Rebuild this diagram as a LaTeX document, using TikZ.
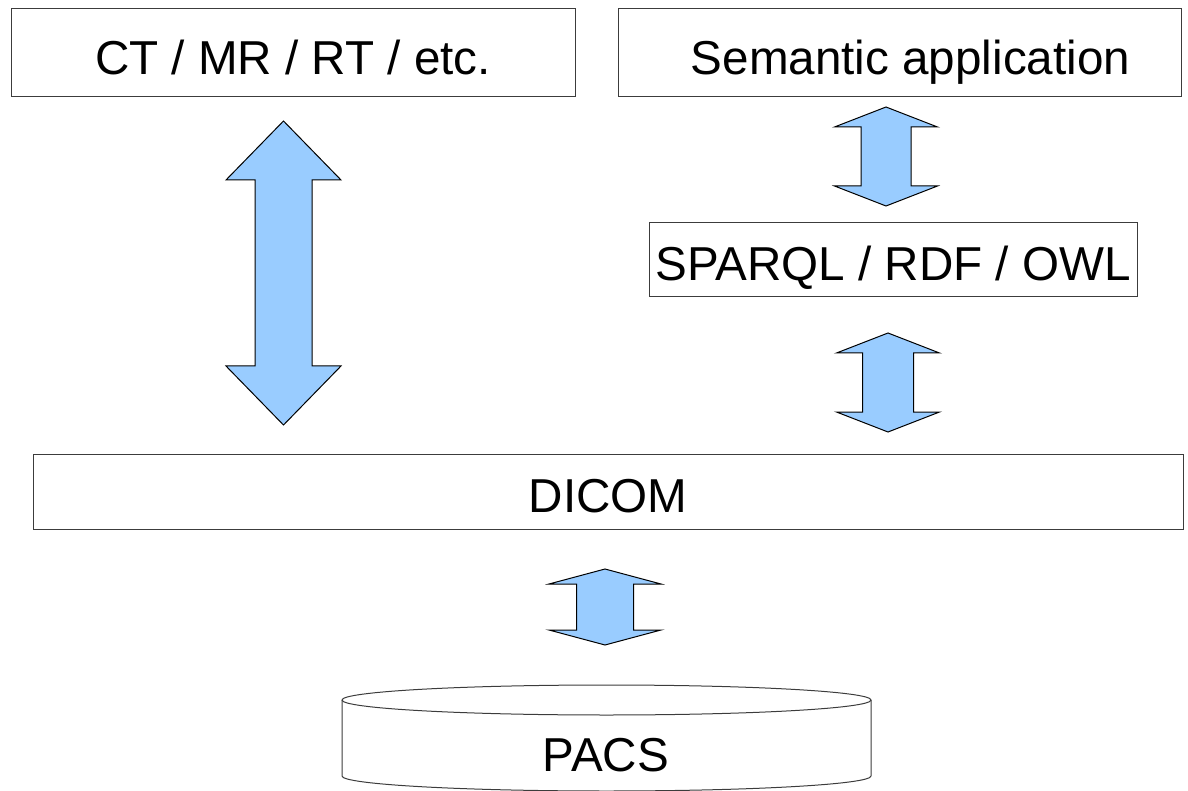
\documentclass[tikz,border=0pt]{standalone}
\usepackage{fontspec}
\setmainfont{Liberation Sans}
\usetikzlibrary{calc}
\definecolor{arrowblue}{RGB}{153,204,255}
\definecolor{edgegray}{RGB}{60,60,60}
\tikzset{
  layerbox/.style={draw=edgegray, line width=0.75pt, inner sep=0pt, text height=31.6pt, text depth=0pt, font=\fontsize{35.7}{42}\selectfont},
  boxtext/.style={inner sep=0pt, text height=31.6pt, text depth=0pt, font=\fontsize{35.7}{42}\selectfont},
  blockarrow/.style={draw=black, fill=arrowblue, line width=0.75pt, line join=miter}
}
% double block arrow: top tip, bottom tip, head half width, shaft half width, head length
\newcommand{\dblarrow}[5]{%
  \draw[blockarrow] (#1) -- ($(#1)+(#3,#5)$) -- ($(#1)+(#4,#5)$) -- ($(#2)+(#4,-#5)$) -- ($(#2)+(#3,-#5)$) -- (#2) -- ($(#2)+(-#3,-#5)$) -- ($(#2)+(-#4,-#5)$) -- ($(#1)+(-#4,#5)$) -- ($(#1)+(-#3,#5)$) -- cycle;}
\begin{document}
\begin{tikzpicture}[x=0.75pt,y=0.75pt,yscale=-1,xscale=1]
\useasboundingbox (0,0) rectangle (1188,791);

%Shape: Rectangle
\node[layerbox, minimum width=423pt, minimum height=66pt] (modality) at (293,53) {CT / MR / RT / etc.};
%Shape: Rectangle
\node[layerbox, minimum width=422.25pt, minimum height=66pt] (semapp) at (899.5,53) {};
% Text Node
\node[boxtext] (semtext) at ($(semapp.center)+(11,0)$) {Semantic application};
%Shape: Rectangle
\node[layerbox, minimum width=366pt, minimum height=55.5pt] (sparql) at (893,259.5) {SPARQL / RDF / OWL};
%Shape: Rectangle
\node[layerbox, minimum width=862.5pt, minimum height=56.25pt] (dicom) at (608,491.5) {DICOM};

%Shape: Can
\draw [edgegray, line width=0.75pt] (606.5,700) ellipse [x radius=264.5, y radius=15];
\draw [edgegray, line width=0.75pt] (342,700) -- (342,776) arc [start angle=180, end angle=0, x radius=264.5, y radius=15] -- (871,700);
% Text Node
\node[font=\fontsize{35.7}{42}\selectfont, inner sep=0pt] (pacs) at (606,755) {PACS};

%Block arrows
\coordinate (modup) at (283.5,121);
\coordinate (moddown) at (283.5,425);
\dblarrow{modup}{moddown}{57.5}{28.5}{59}

\coordinate (semup) at (886,107);
\coordinate (semdown) at (886,206);
\dblarrow{semup}{semdown}{51.5}{25}{20}

\coordinate (rdfup) at (888,333);
\coordinate (rdfdown) at (888,432);
\dblarrow{rdfup}{rdfdown}{51.5}{25.5}{20}

\coordinate (pacsup) at (605,569);
\coordinate (pacsdown) at (605,645);
\dblarrow{pacsup}{pacsdown}{56}{28.5}{15}

\end{tikzpicture}
\end{document}
